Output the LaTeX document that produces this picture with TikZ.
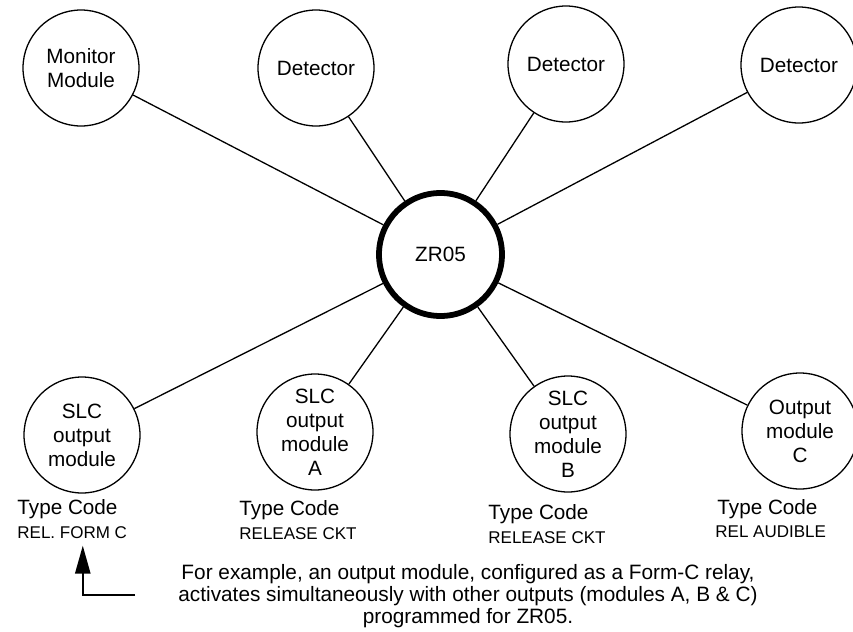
\documentclass[tikz,border=0pt]{standalone}
\usepackage{fontspec}
\setmainfont{Liberation Sans}
\usepackage{tikz}
\usetikzlibrary{positioning, arrows.meta}

\begin{document}
\begin{tikzpicture}[
  x=0.5pt, y=-0.5pt,
  every node/.style={font=\fontsize{10.35}{12}\selectfont, align=center},
  unit/.style={draw, circle, line width=0.65pt, minimum size=58pt, inner sep=0pt},
  hub/.style={unit, line width=2.9pt, minimum size=61.5pt},
  code/.style={anchor=base west, inner sep=0pt, align=left},
  codeval/.style={code, font=\fontsize{8.5}{10}\selectfont},
  link/.style={line width=0.65pt},
]
\useasboundingbox (0,0) rectangle (853,632);

% Top row: monitor + detectors
\node[unit] (mon) at (81,68) {Monitor\\Module};
\node[unit] (det1) at (316,68) {Detector};
\node[unit] (det2) at (566,64) {Detector};
\node[unit] (det3) at (799,65) {Detector};

% Centre: zone
\node[hub] (zr) at (440.5,254.5) {ZR05};

% Bottom row: output modules
\node[unit] (slc) at (82,435) {SLC\\output\\module};
\node[unit] (outA) at (315,432) {SLC\\output\\module\\A};
\node[unit] (outB) at (568,434) {SLC\\output\\module\\B};
\node[unit] (outC) at (800,431) {Output\\module\\C};

% Type codes
\node[code] (tc1) at (17,514) {Type Code};
\node[codeval] (rc1) at (17,538) {REL. FORM C};
\node[code] (tcA) at (239,515) {Type Code};
\node[codeval] (rcA) at (239,539) {RELEASE CKT};
\node[code] (tcB) at (488,519) {Type Code};
\node[codeval] (rcB) at (488,543) {RELEASE CKT};
\node[code] (tcC) at (717,514) {Type Code};
\node[codeval] (rcC) at (715,537) {REL AUDIBLE};

% Note
\node[font=\fontsize{10.4}{11}\selectfont] (note) at (468,596)
  {For example, an output module, configured as a Form-C relay,\\
   activates simultaneously with other outputs (modules A, B \& C)\\
   programmed for ZR05.};

% Edges
\draw[link] (zr) -- (mon);
\draw[link] (zr) -- (det1);
\draw[link] (zr) -- (det2);
\draw[link] (zr) -- (det3);
\draw[link] (zr) -- (slc);
\draw[link] (zr) -- (outA);
\draw[link] (zr) -- (outB);
\draw[link] (zr) -- (outC);

% Pointer to the Form-C module
\coordinate (hook) at (135,595);
\draw[line width=1.25pt, -{Triangle[length=14pt,width=7.5pt]}]
  (hook) -| ([xshift=5.3pt,yshift=-3.5pt]rc1.south);
\end{tikzpicture}
\end{document}
